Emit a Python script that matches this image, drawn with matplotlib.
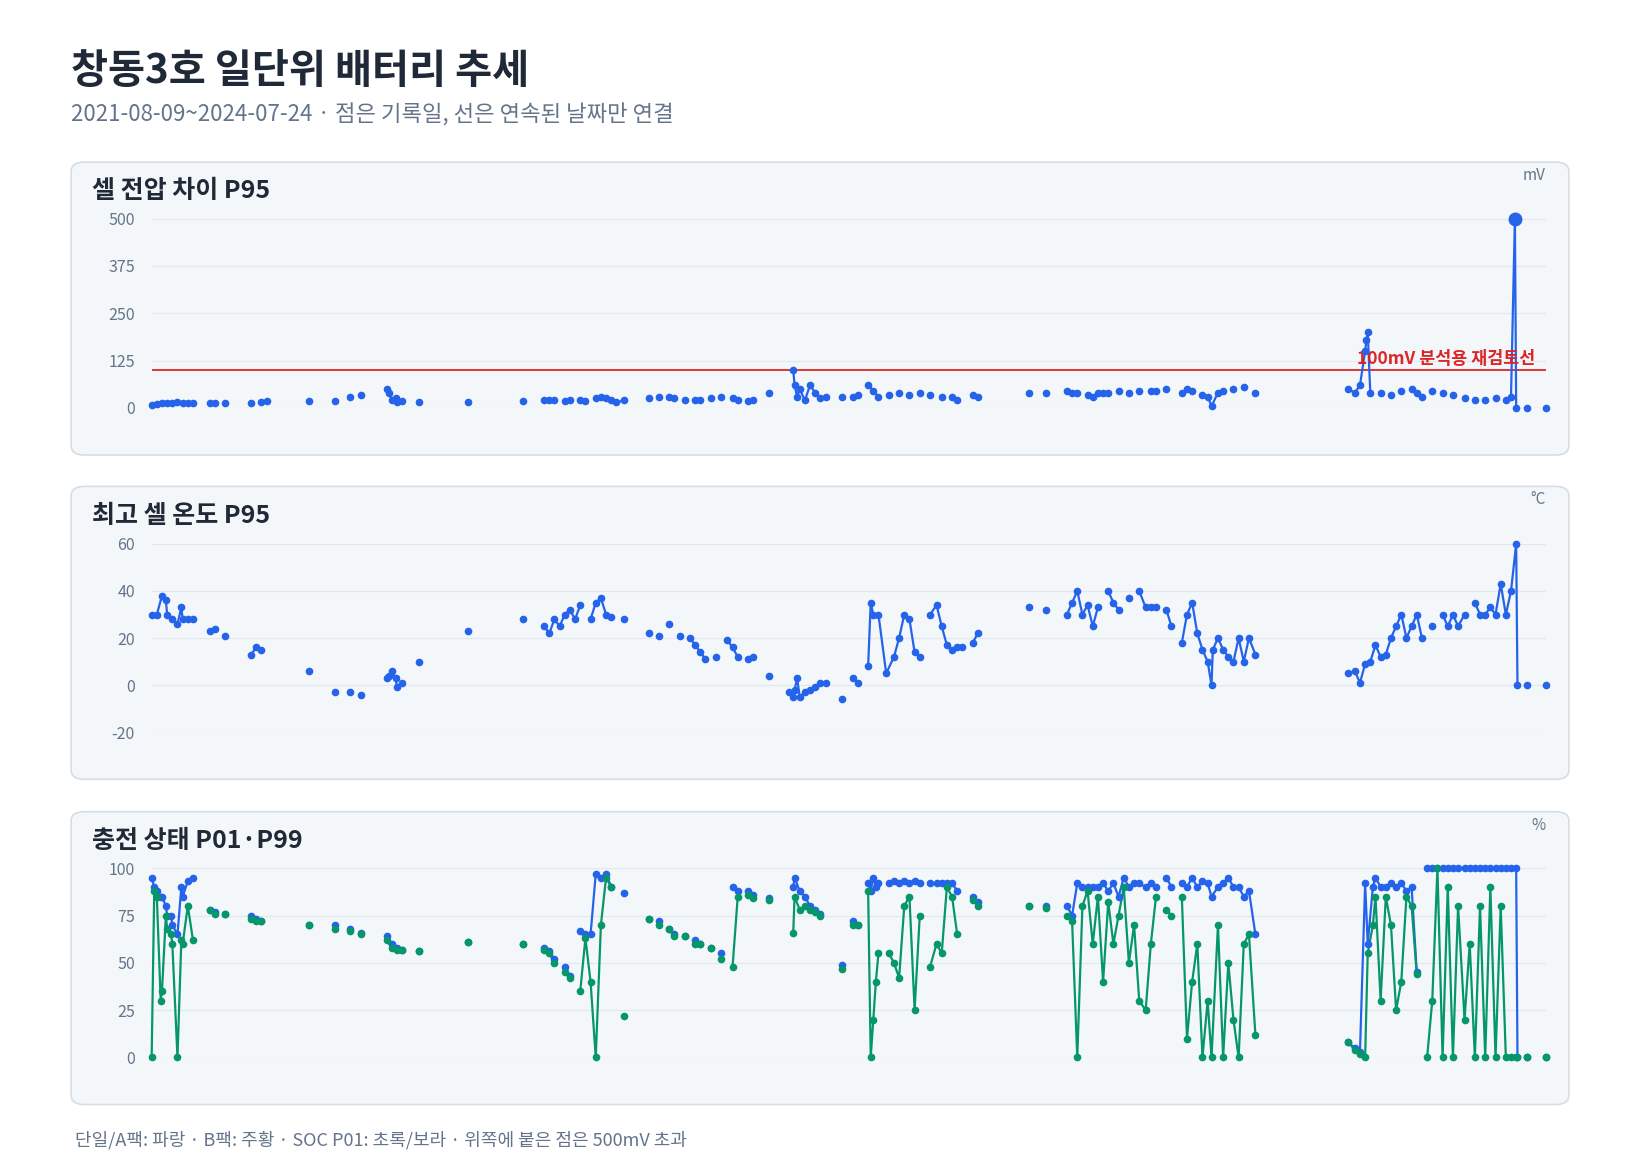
import matplotlib
matplotlib.use("Agg")
from matplotlib import pyplot as plt
from matplotlib.patches import FancyBboxPatch

plt.rcParams['font.family'] = ['Noto Sans CJK KR', 'DejaVu Sans']

# data: days since 2021-08-09
volt_day = [0, 4, 8, 12, 16, 20, 24, 28, 32, 45, 49, 57, 77, 85, 89, 122, 142, 154, 162,
            182, 184, 186, 189, 190, 194, 207, 245, 288, 304, 308, 312, 320, 324, 332, 336,
            344, 348, 352, 356, 360, 366, 385, 393, 401, 405, 413, 421, 425, 433, 441, 450,
            454, 462, 466, 478, 497, 498, 500, 502, 506, 510, 514, 518, 522, 535, 543, 547,
            555, 559, 563, 571, 579, 587, 595, 603, 612, 620, 624, 636, 640, 680, 693, 709,
            713, 717, 725, 729, 733, 737, 741, 749, 757, 765, 774, 778, 786, 798, 802, 806,
            814, 818, 821, 826, 830, 838, 846, 855, 927, 932, 936, 940, 941, 942, 944, 952,
            960, 968, 976, 980, 984, 992, 1000, 1008, 1017, 1025, 1033, 1041, 1049, 1053,
            1056, 1057, 1065, 1080]
volt_p95 = [8, 10, 12, 14, 12, 15, 14, 13, 14, 12, 12, 12, 13, 15, 18, 18, 18, 30, 35,
            50, 40, 20, 25, 15, 18, 15, 15, 18, 20, 22, 20, 18, 20, 22, 18,
            25, 30, 25, 20, 15, 20, 25, 28, 30, 25, 20, 20, 22, 25, 30, 25,
            20, 18, 20, 40, 100, 60, 30, 50, 20, 60, 40, 25, 30, 30, 30, 35,
            60, 45, 30, 35, 40, 35, 40, 35, 30, 30, 20, 35, 30, 40, 40, 45,
            40, 40, 35, 30, 40, 40, 40, 45, 40, 45, 45, 45, 50, 40, 50, 45,
            35, 30, 5, 40, 45, 50, 55, 40, 50, 40, 60, 150, 180, 200, 40, 40,
            35, 45, 50, 40, 30, 45, 40, 35, 25, 20, 20, 25, 20, 30,
            500, 0, 0, 0]

temp_day = [0, 4, 8, 11, 12, 16, 20, 23, 24, 28, 32, 45, 49, 57, 77, 81, 85, 122, 142, 154,
            162, 182, 184, 186, 189, 190, 194, 207, 245, 288, 304, 308, 312, 316, 320, 324,
            328, 332, 340, 344, 348, 352, 356, 366, 385, 393, 401, 409, 417, 421, 425, 429,
            437, 446, 450, 454, 462, 466, 478, 494, 497, 498, 500, 502, 506, 510, 514, 518,
            522, 535, 543, 547, 555, 557, 559, 563, 569, 575, 579, 583, 587, 591, 595, 603,
            608, 612, 616, 620, 624, 628, 636, 640, 680, 693, 709, 713, 717, 721, 725, 729,
            733, 741, 745, 749, 757, 765, 770, 774, 778, 786, 790, 798, 802, 806, 810, 814,
            818, 821, 822, 826, 830, 834, 838, 842, 846, 850, 855, 927, 932, 936, 940, 944,
            948, 952, 956, 960, 964, 968, 972, 976, 980, 984, 992, 1000, 1004, 1008, 1012,
            1017, 1025, 1029, 1033, 1037, 1041, 1045, 1049, 1053, 1057, 1058, 1065, 1080]
temp_p95 = [30, 30, 38, 36, 30, 28, 26, 33, 28, 28, 28, 23, 24, 21, 13, 16, 15, 6, -3, -3,
            -4, 3, 4, 6, 3, -1, 1, 10, 23, 28, 25, 22, 28, 25, 30, 32,
            28, 34, 28, 35, 37, 30, 29, 28, 22, 21, 26, 21, 20, 17, 14, 11,
            12, 19, 16, 12, 11, 12, 4, -3, -5, -2, 3, -5, -3, -2, -1, 1,
            1, -6, 3, 1, 8, 35, 30, 30, 5, 12, 20, 30, 28, 14, 12, 30,
            34, 25, 17, 15, 16, 16, 18, 22, 33, 32, 30, 35, 40, 30, 34, 25,
            33, 40, 35, 32, 37, 40, 33, 33, 33, 32, 25, 18, 30, 35, 22, 15,
            10, 0, 15, 20, 15, 12, 10, 20, 10, 20, 13, 5, 6, 1, 9, 10,
            17, 12, 13, 20, 25, 30, 20, 25, 30, 20, 25, 30, 25, 30, 25,
            30, 35, 30, 30, 33, 30, 43, 30, 40, 60, 0, 0, 0]

soc_day = [0, 2, 4, 7, 8, 11, 12, 15, 16, 20, 23, 24, 28, 32, 45, 49, 57, 77, 81, 85, 122,
           142, 154, 162, 182, 186, 190, 194, 207, 245, 288, 304, 308, 312, 320, 324, 332,
           336, 340, 344, 348, 352, 356, 366, 385, 393, 401, 405, 413, 421, 425, 433, 441,
           450, 454, 462, 466, 478, 497, 498, 502, 506, 510, 514, 518, 535, 543, 547, 555,
           557, 559, 561, 563, 571, 575, 579, 583, 587, 591, 595, 603, 608, 612, 616, 620,
           624, 636, 640, 680, 693, 709, 713, 717, 721, 725, 729, 733, 737, 741, 745, 749,
           753, 757, 761, 765, 770, 774, 778, 786, 790, 798, 802, 806, 810, 814, 818, 821,
           826, 830, 834, 838, 842, 846, 850, 855, 927, 932, 936, 940, 942, 946, 948, 952,
           956, 960, 964, 968, 972, 976, 980, 988, 992, 996, 1000, 1004, 1008, 1012, 1017,
           1021, 1025, 1029, 1033, 1037, 1041, 1045, 1049, 1053, 1057, 1058, 1065, 1080]
soc_p99 = [95, 90, 88, 85, 85, 80, 75, 75, 70, 65, 90, 85, 93, 95, 78, 77, 76, 75, 73, 72, 70,
           70, 68, 66, 64, 60, 58, 57, 56, 61, 60, 58, 56, 52, 48, 43, 67,
           65, 65, 97, 95, 97, 90, 87, 73, 72, 68, 65, 64, 62, 60, 58, 55,
           90, 88, 88, 86, 84, 90, 95, 88, 85, 80, 78, 76, 49, 72, 70, 92,
           88, 95, 90, 92, 92, 93, 92, 93, 92, 93, 92, 92, 92, 92, 92, 92,
           88, 85, 82, 80, 80, 80, 75, 92, 90, 90, 90, 90, 92, 88, 92, 85,
           95, 90, 92, 92, 90, 92, 90, 95, 90, 92, 90, 95, 90, 93, 92, 85,
           90, 92, 95, 90, 90, 85, 88, 65, 8, 5, 3, 92, 60, 90, 95, 90,
           90, 92, 90, 92, 88, 90, 45, 100, 100, 100, 100, 100, 100, 100, 100,
           100, 100, 100, 100, 100, 100, 100, 100, 100, 100, 0, 0, 0]
soc_p01 = [0, 88, 85, 30, 35, 75, 68, 65, 60, 0, 62, 60, 80, 62, 78, 76, 76, 73, 72, 72, 70,
           68, 67, 65, 62, 58, 57, 57, 56, 61, 60, 57, 55, 50, 45, 42, 35,
           63, 40, 0, 70, 95, 90, 22, 73, 70, 68, 64, 64, 60, 60, 58, 52,
           48, 85, 86, 84, 83, 66, 85, 78, 80, 78, 77, 75, 47, 70, 70, 88,
           0, 20, 40, 55, 55, 50, 42, 80, 85, 25, 75, 48, 60, 55, 90, 85,
           65, 83, 80, 80, 79, 75, 72, 0, 80, 88, 60, 85, 40, 82, 60, 75,
           90, 50, 70, 30, 25, 60, 85, 78, 75, 85, 10, 40, 60, 0, 30, 0,
           70, 0, 50, 20, 0, 60, 65, 12, 8, 4, 2, 0, 55, 70, 85, 30,
           85, 70, 25, 40, 85, 80, 44, 0, 30, 100, 0, 90, 0, 80, 20,
           60, 0, 80, 0, 90, 0, 80, 0, 0, 0, 0, 0, 0]

BLUE = "#2563eb"
GREEN = "#059669"
RED = "#dc2626"
GAP = 6

W, H = 1568, 1109
fig = plt.figure(figsize=(16.4, 11.6), dpi=100)


def fx(px):
    return px / W


def fy(py):
    return 1 - py / H


def draw_series(ax, days, vals, color, ms=4.5):
    # lines only between close days
    seg_x, seg_y = [days[0]], [vals[0]]
    for i in range(1, len(days)):
        if days[i] - days[i - 1] <= GAP:
            seg_x.append(days[i])
            seg_y.append(vals[i])
        else:
            ax.plot(seg_x, seg_y, color=color, lw=1.6, clip_on=False)
            seg_x, seg_y = [days[i]], [vals[i]]
    ax.plot(seg_x, seg_y, color=color, lw=1.6, clip_on=False)
    ax.plot(days, vals, "o", color=color, ms=ms, clip_on=False, zorder=3)


def panel(top, title, unit, ymin, ymax, ticks, ytop, ybot):
    box = FancyBboxPatch((fx(68), fy(top + 280)), fx(1500 - 68), 280 / H,
                         boxstyle="round,pad=0,rounding_size=0.008",
                         transform=fig.transFigure, facecolor="#f4f7fa",
                         edgecolor="#d5dde6", lw=1.2, zorder=-5)
    fig.patches.append(box)
    fig.text(fx(88), fy(top + 28), title, fontsize=18, fontweight="bold",
             color="#1f2937", va="center")
    fig.text(fx(1478), fy(top + 13), unit, fontsize=11, color="#64748b",
             va="center", ha="right")
    ax = fig.add_axes([fx(145), fy(ybot), fx(1478 - 145), (ybot - ytop) / H])
    ax.set_facecolor("none")
    ax.set_xlim(0, 1080)
    ax.set_ylim(ymin, ymax)
    ax.set_yticks(ticks)
    ax.set_yticklabels([str(t) for t in ticks], fontsize=11.5, color="#64748b")
    ax.set_xticks([])
    ax.tick_params(axis="y", length=0, pad=12)
    for s in ax.spines.values():
        s.set_visible(False)
    ax.grid(axis="y", color="#e2e8f0", lw=0.9)
    ax.set_axisbelow(True)
    return ax


fig.text(fx(68), fy(68), "창동3호 일단위 배터리 추세", fontsize=29, fontweight="bold",
         color="#1f2937", va="center")
fig.text(fx(68), fy(110), "2021-08-09~2024-07-24 · 점은 기록일, 선은 연속된 날짜만 연결",
         fontsize=16, color="#64748b", va="center")

ax1 = panel(155, "셀 전압 차이 P95", "mV", 0, 500, [0, 125, 250, 375, 500], 209, 390)
ax1.axhline(100, color=RED, lw=1.3, zorder=2)
ax1.text(1072, 106, "100mV 분석용 재검토선", color=RED, fontsize=12.5,
         fontweight="bold", ha="right", va="bottom")
draw_series(ax1, volt_day, volt_p95, BLUE)
ax1.plot([volt_day[-4]], [500], "o", color=BLUE, ms=9, clip_on=False, zorder=4)

ax2 = panel(465, "최고 셀 온도 P95", "°C", -20, 60, [-20, 0, 20, 40, 60], 520, 700)
draw_series(ax2, temp_day, temp_p95, BLUE)

ax3 = panel(776, "충전 상태 P01·P99", "%", 0, 100, [0, 25, 50, 75, 100], 830, 1011)
draw_series(ax3, soc_day, soc_p99, BLUE)
draw_series(ax3, soc_day, soc_p01, GREEN)

fig.text(fx(72), fy(1090), "단일/A팩: 파랑 · B팩: 주황 · SOC P01: 초록/보라 · 위쪽에 붙은 점은 500mV 초과",
         fontsize=13, color="#64748b", va="center")

fig.savefig("out.png", dpi=100)
